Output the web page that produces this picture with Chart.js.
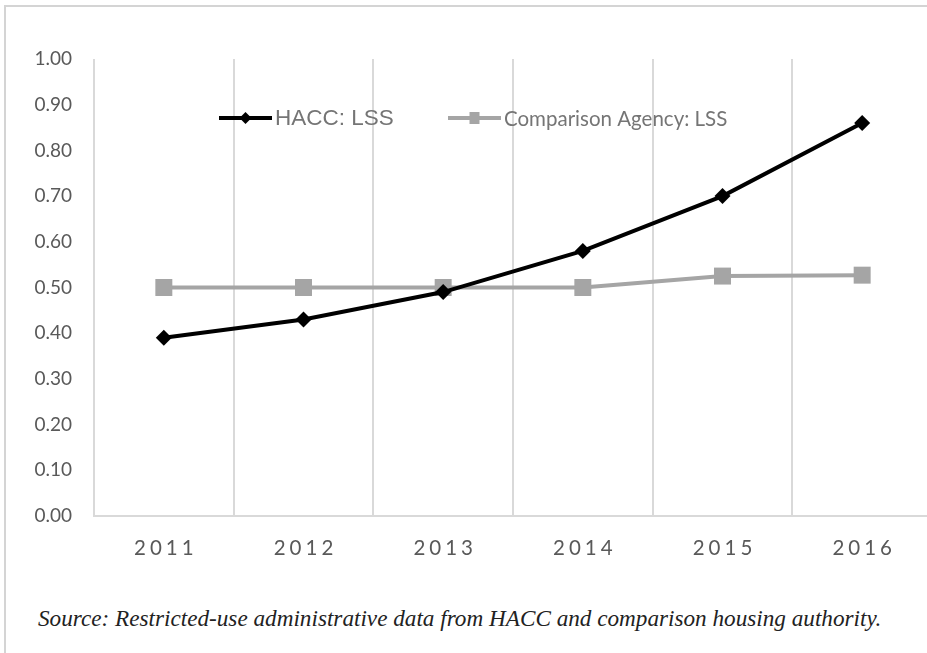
<!DOCTYPE html>
<html>
<head>
<meta charset="utf-8">
<script src="https://cdn.jsdelivr.net/npm/chart.js@4"></script>
<style>
  html, body { margin: 0; padding: 0; background: #fff; overflow: hidden; }
  #frame { position: absolute; left: 4px; top: 5px; width: 960px; height: 660px;
           border-left: 2px solid #d4d4d4; border-top: 2px solid #d4d4d4; }
  #wrap { position: absolute; left: 0; top: 0; width: 944px; height: 580px; }
  #source { position: absolute; left: 38px; top: 605px; white-space: nowrap;
            font-family: "Liberation Serif", serif; font-style: italic; font-size: 23.2px; color: #222; }
</style>
</head>
<body>
<div id="frame"></div>
<div id="wrap"><canvas id="myChart" width="944" height="580"></canvas></div>
<div id="source">Source: Restricted-use administrative data from HACC and comparison housing authority.</div>
<script>
// data set
var years = ["2011", "2012", "2013", "2014", "2015", "2016"];
var hacc = [0.39, 0.43, 0.49, 0.58, 0.70, 0.86];
var comparison = [0.50, 0.50, 0.50, 0.50, 0.525, 0.527];
var seriesNames = ["HACC: LSS", "Comparison Agency: LSS"];

const tickColor = "#595959";
const gridColor = "#d9d9d9";

// x labels drawn with letter spacing
const yearLabels = {
  id: "yearLabels",
  afterDraw(chart) {
    const ctx = chart.ctx;
    const x = chart.scales.x;
    ctx.save();
    ctx.font = "20.5px Lato";
    ctx.fillStyle = tickColor;
    ctx.textAlign = "center";
    ctx.textBaseline = "middle";
    ctx.letterSpacing = "4px";
    years.forEach((label, i) => {
      ctx.fillText(label, x.getPixelForValue(i) + 2, x.top + 32);
    });
    ctx.restore();
  }
};

// legend with line + marker, drawn over the plot
const lineLegend = {
  id: "lineLegend",
  afterDraw(chart) {
    const ctx = chart.ctx;
    const items = [
      { x0: 219, x1: 272, tx: 275, font: "22.5px 'Liberation Sans'" },
      { x0: 448, x1: 501, tx: 504, font: "20.5px Lato" }
    ];
    const y = 118;
    ctx.save();
    items.forEach((it, i) => {
      const ds = chart.data.datasets[i];
      ctx.strokeStyle = ds.borderColor;
      ctx.fillStyle = ds.borderColor;
      ctx.lineWidth = 4;
      ctx.beginPath();
      ctx.moveTo(it.x0, y);
      ctx.lineTo(it.x1, y);
      ctx.stroke();
      const cx = (it.x0 + it.x1) / 2;
      ctx.beginPath();
      if (ds.pointStyle === "rectRot") {
        ctx.moveTo(cx, y - 6); ctx.lineTo(cx + 6, y); ctx.lineTo(cx, y + 6); ctx.lineTo(cx - 6, y);
        ctx.closePath();
      } else {
        ctx.rect(cx - 5, y - 6, 10, 12);
      }
      ctx.fill();
      ctx.font = it.font;
      ctx.fillStyle = "#757575";
      ctx.textBaseline = "middle";
      ctx.fillText(ds.label, it.tx, y + 1);
    });
    ctx.restore();
  }
};

new Chart("myChart", {
  type: "line",
  data: {
    labels: years,
    datasets: [{
      label: seriesNames[0],
      data: hacc,
      borderColor: "#000000",
      backgroundColor: "#000000",
      borderWidth: 4,
      lineTension: 0,
      pointStyle: "rectRot",
      pointRadius: 8,
      pointHoverRadius: 8,
      pointBorderWidth: 0,
      fill: false,
      order: 0
    }, {
      label: seriesNames[1],
      data: comparison,
      borderColor: "#a5a5a5",
      backgroundColor: "#a5a5a5",
      borderWidth: 4,
      lineTension: 0,
      pointStyle: "rect",
      pointRadius: 12,
      pointHoverRadius: 12,
      pointBorderWidth: 0,
      fill: false,
      order: 1
    }]
  },
  options: {
    responsive: false,
    animation: false,
    layout: { padding: { top: 59, right: 0, left: 0, bottom: 0 } },
    plugins: {
      legend: { display: false },
      tooltip: { enabled: false }
    },
    scales: {
      x: {
        offset: true,
        grid: { offset: true, color: gridColor, lineWidth: 2, drawTicks: false },
        border: { display: true, color: gridColor, width: 2 },
        ticks: { display: false },
        afterFit(scale) { scale.height = 64; }
      },
      y: {
        min: 0,
        max: 1,
        grid: { display: false, drawTicks: false },
        border: { display: false },
        ticks: {
          stepSize: 0.1,
          padding: 22,
          color: tickColor,
          font: { family: "Lato", size: 19 },
          callback: v => v.toFixed(2)
        },
        afterFit(scale) { scale.width = 94; }
      }
    }
  },
  plugins: [yearLabels, lineLegend]
});
</script>
</body>
</html>
